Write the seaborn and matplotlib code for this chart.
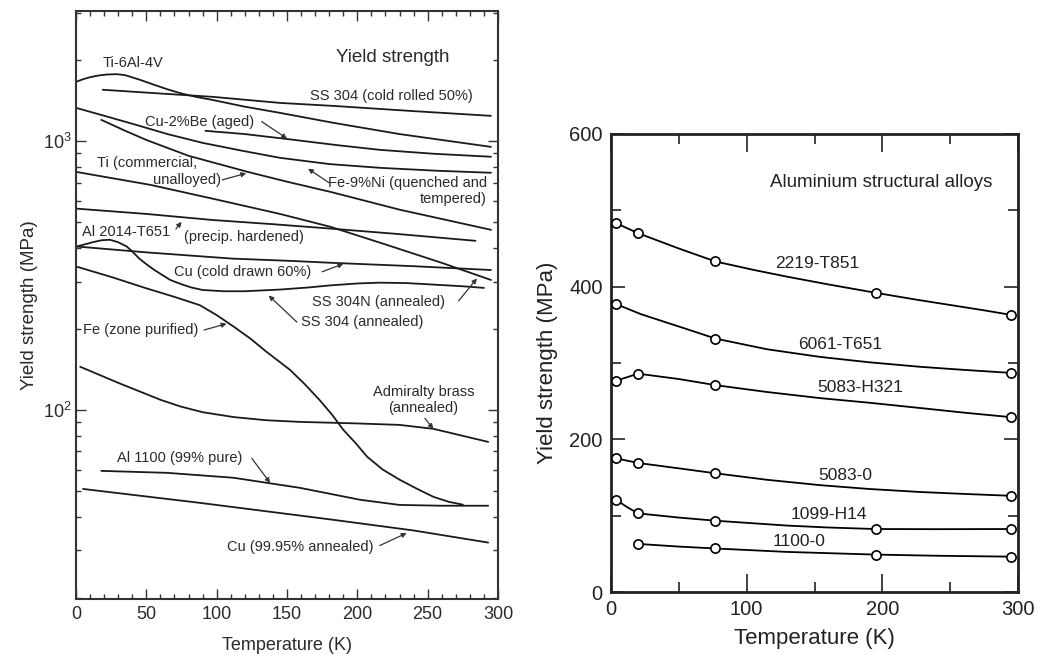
import numpy as np
import pandas as pd
import matplotlib
matplotlib.use("Agg")
import matplotlib.pyplot as plt
import matplotlib.ticker as mticker
import seaborn as sns

# ---------------- data: left panel (yield strength, MPa, log scale) ----------------
ti64_T = [0, 5, 10, 16, 22, 29, 35, 45, 55, 65, 75, 86, 97, 120, 145, 183, 230, 295]
ti64_v = [1657, 1695, 1725, 1750, 1765, 1770, 1755, 1690, 1620, 1555, 1500, 1455, 1420, 1340, 1271, 1167, 1060, 950]

ss304cr_T = [19, 60, 97, 145, 183, 240, 295]
ss304cr_v = [1549, 1500, 1458, 1384, 1349, 1290, 1239]

cube_T = [92, 120, 150, 185, 216, 255, 295]
cube_v = [1090, 1060, 1016, 965, 926, 895, 873]

feni_T = [0, 20, 43, 65, 90, 120, 145, 180, 216, 255, 295]
feni_v = [1327, 1240, 1146, 1060, 983, 915, 865, 820, 794, 775, 761]

ticp_T = [18, 35, 50, 80, 122, 150, 181, 230, 295]
ticp_v = [1197, 1090, 1008, 880, 767, 705, 646, 555, 467]

al2014_T = [0, 50, 97, 140, 183, 230, 284]
al2014_v = [560, 535, 508, 490, 471, 450, 425]

cucd_T = [0, 50, 111, 152, 182, 240, 295]
cucd_v = [405, 385, 365, 358, 352, 342, 331]

ss304a_T = [0, 6, 12, 18, 24, 30, 36, 40, 45, 50, 55, 61, 67, 75, 82, 90, 105, 120,
            145, 165, 180, 200, 216, 235, 255, 275, 290]
ss304a_v = [404, 412, 420, 427, 429, 420, 405, 388, 365, 348, 333, 318, 304, 293, 285, 279, 276, 276,
            280, 285, 290, 295, 297, 296, 292, 288, 284]

ss304n_T = [0, 53, 100, 145, 181, 220, 260, 295]
ss304n_v = [767, 686, 605, 535, 479, 412, 352, 304]

fe_T = [1, 25, 50, 70, 88, 100, 112, 124, 135, 152, 163, 173, 182, 190, 199, 207, 218,
        230, 242, 254, 265, 275]
fe_v = [340, 312, 283, 263, 245, 225, 204, 184, 165, 141, 124, 109, 96, 84.3, 75, 66.9, 60,
        55.0, 51, 47.5, 45.5, 44.4]

brass_T = [3, 30, 60, 74, 90, 112, 135, 159, 200, 230, 254, 293]
brass_v = [144.6, 126, 109, 103, 98, 94, 91.5, 90.2, 89, 87.9, 85, 76]

al1100_T = [18, 65, 112, 159, 202, 230, 260, 293]
al1100_v = [59.3, 58.3, 55.9, 51.3, 46.3, 44.3, 44.0, 44.0]

cuann_T = [5, 88, 183, 240, 293]
cuann_v = [50.8, 45.1, 39.0, 35.6, 32.1]

left_series = {
    "Ti-6Al-4V": (ti64_T, ti64_v),
    "SS 304 (cold rolled 50%)": (ss304cr_T, ss304cr_v),
    "Cu-2%Be (aged)": (cube_T, cube_v),
    "Fe-9%Ni": (feni_T, feni_v),
    "Ti (commercial)": (ticp_T, ticp_v),
    "Al 2014-T651": (al2014_T, al2014_v),
    "Cu (cold drawn 60%)": (cucd_T, cucd_v),
    "SS 304 (annealed)": (ss304a_T, ss304a_v),
    "SS 304N (annealed)": (ss304n_T, ss304n_v),
    "Fe (zone purified)": (fe_T, fe_v),
    "Admiralty brass": (brass_T, brass_v),
    "Al 1100": (al1100_T, al1100_v),
    "Cu (99.95% annealed)": (cuann_T, cuann_v),
}

# ---------------- data: right panel (aluminium alloys, MPa) ----------------
# measured points (markers)
a2219_T = [4, 20, 77, 195, 295]
a2219_v = [483, 470, 433, 392, 363]
a6061_T = [4, 77, 295]
a6061_v = [377, 332, 287]
a5083h_T = [4, 20, 77, 295]
a5083h_v = [277, 286, 271, 229]
a5083o_T = [4, 20, 77, 295]
a5083o_v = [175, 169, 155.5, 126]
a1099_T = [4, 20, 77, 195, 295]
a1099_v = [120.5, 103, 93.4, 82.5, 82.5]
a1100_T = [20, 77, 195, 295]
a1100_v = [63, 57, 49, 46.3]

# curve traces
c2219_T = [4, 20, 50, 77, 105, 130, 160, 195, 225, 250, 275, 295]
c2219_v = [483, 470, 450, 433, 422, 413, 403, 392, 383, 376, 369, 363]
c6061_T = [4, 22, 41, 60, 77, 115, 154, 190, 228, 260, 295]
c6061_v = [377, 364, 353, 342, 332, 318, 308, 301, 295, 291, 287]
c5083h_T = [4, 20, 50, 77, 115, 154, 190, 228, 260, 295]
c5083h_v = [277, 286, 279, 271, 262, 254, 248, 241, 235, 229]
c5083o_T = [4, 20, 50, 77, 115, 154, 190, 228, 260, 295]
c5083o_v = [175, 169, 162, 155.5, 147, 140, 135, 131, 128.5, 126]
c1099_T = [4, 12, 20, 50, 77, 105, 130, 160, 195, 240, 295]
c1099_v = [120.5, 111, 103, 97.5, 93.4, 90, 87, 84.5, 82.5, 82.3, 82.5]
c1100_T = [20, 50, 77, 130, 195, 240, 295]
c1100_v = [63, 59.5, 57, 52.5, 49, 47.5, 46.3]

right_points = {
    "2219-T851": (a2219_T, a2219_v), "6061-T651": (a6061_T, a6061_v),
    "5083-H321": (a5083h_T, a5083h_v), "5083-0": (a5083o_T, a5083o_v),
    "1099-H14": (a1099_T, a1099_v), "1100-0": (a1100_T, a1100_v),
}
right_curves = {
    "2219-T851": (c2219_T, c2219_v), "6061-T651": (c6061_T, c6061_v),
    "5083-H321": (c5083h_T, c5083h_v), "5083-0": (c5083o_T, c5083o_v),
    "1099-H14": (c1099_T, c1099_v), "1100-0": (c1100_T, c1100_v),
}

def long_df(d):
    rows = []
    for name, (ts, vs) in d.items():
        for t, v in zip(ts, vs):
            rows.append((name, t, v))
    return pd.DataFrame(rows, columns=["series", "T", "value"])

df_left = long_df(left_series)
df_rc = long_df(right_curves)
df_rp = long_df(right_points)

# ---------------- style ----------------
sns.set_style("ticks")
plt.rcParams["font.family"] = ["Liberation Sans", "DejaVu Sans"]
plt.rcParams["mathtext.fontset"] = "custom"
plt.rcParams["mathtext.rm"] = "Liberation Sans"
plt.rcParams["mathtext.it"] = "Liberation Sans:italic"
plt.rcParams["mathtext.bf"] = "Liberation Sans:bold"

TXT = "#2a2a2a"
fig = plt.figure(figsize=(10.38, 6.57), dpi=100)
fig.patch.set_facecolor("white")

# ================= left panel =================
axL = fig.add_axes([76 / 1038, 1 - 599 / 657, 422 / 1038, 588 / 657])
axL.set_yscale("log")
sns.lineplot(data=df_left, x="T", y="value", hue="series",
             palette={k: "#1a1a1a" for k in left_series}, estimator=None,
             sort=False, legend=False, linewidth=1.3, ax=axL)
axL.set_xlim(0, 300)
axL.set_ylim(19.8, 3040)
axL.xaxis.set_major_locator(mticker.MultipleLocator(50))
axL.xaxis.set_minor_locator(mticker.MultipleLocator(10))
axL.yaxis.set_major_locator(mticker.LogLocator(base=10, numticks=10))
axL.yaxis.set_minor_locator(mticker.LogLocator(base=10, subs=np.arange(2, 10), numticks=20))
axL.yaxis.set_major_formatter(mticker.LogFormatterMathtext())
axL.yaxis.set_minor_formatter(mticker.NullFormatter())
axL.tick_params(which="both", direction="in", top=True, right=True,
                colors="#333", labelcolor=TXT, labelsize=13, width=1.0)
axL.tick_params(which="major", length=7, pad=5)
axL.tick_params(axis="y", which="major", pad=3)
axL.tick_params(which="minor", length=3.8)
for s in axL.spines.values():
    s.set_linewidth(1.5)
    s.set_color("#333")
axL.set_xlabel("Temperature (K)", fontsize=13, color=TXT, labelpad=10)
axL.set_ylabel("Yield strength (MPa)", fontsize=13.5, color=TXT, labelpad=4)

fs = 10.5
def t(x, y, s, **kw):
    kw.setdefault("ha", "left")
    kw.setdefault("va", "center")
    axL.text(x, y, s, fontsize=kw.pop("size", fs), color=TXT, **kw)

def arr(x0, y0, x1, y1):
    axL.annotate("", xy=(x1, y1), xytext=(x0, y0),
                 arrowprops=dict(arrowstyle="-|>", color="#333", lw=0.9,
                                 mutation_scale=7, shrinkA=0, shrinkB=0))

t(225, 2040, "Yield strength", ha="center", size=13.5)
t(19, 1950, "Ti-6Al-4V")
t(224, 1469, "SS 304 (cold rolled 50%)", ha="center")
t(49, 1178, "Cu-2%Be (aged)")
arr(132, 1180, 150, 1020)
t(15, 828, "Ti (commercial,")
t(54.5, 716, "unalloyed)")
arr(104, 716, 121, 758)
t(292, 698, "Fe-9%Ni (quenched and", ha="right")
t(292, 608, "tempered)", ha="right")
arr(180, 698, 165, 788)
t(4, 459, "Al 2014-T651")
arr(71, 470, 75, 500)
t(77, 439, "(precip. hardened)")
t(70, 326, "Cu (cold drawn 60%)")
arr(175, 326, 190, 349)
t(168, 252, "SS 304N (annealed)")
arr(272, 254, 285, 308)
t(160, 212, "SS 304 (annealed)")
arr(157, 212, 137, 266)
t(5, 198, "Fe (zone purified)")
arr(91, 198, 107, 209)
t(247, 116, "Admiralty brass", ha="center")
t(247, 102, "(annealed)", ha="center")
arr(248, 93, 254, 85)
t(29, 66.4, "Al 1100 (99% pure)")
arr(125, 66, 138, 53.5)
t(107, 31.0, "Cu (99.95% annealed)")
arr(216, 31.3, 235, 34.8)

# ================= right panel =================
axR = fig.add_axes([611 / 1038, 1 - 592 / 657, 407 / 1038, 458 / 657])
sns.lineplot(data=df_rc, x="T", y="value", hue="series",
             palette={k: "black" for k in right_curves}, estimator=None,
             sort=False, legend=False, linewidth=1.3, ax=axR, zorder=2)
sns.scatterplot(data=df_rp, x="T", y="value", marker="o", s=44,
                facecolor="white", edgecolor="black", linewidth=1.2,
                legend=False, ax=axR, zorder=3)
axR.set_xlim(0, 300)
axR.set_ylim(0, 600)
axR.xaxis.set_major_locator(mticker.MultipleLocator(100))
axR.xaxis.set_minor_locator(mticker.MultipleLocator(50))
axR.yaxis.set_major_locator(mticker.MultipleLocator(200))
axR.yaxis.set_minor_locator(mticker.MultipleLocator(100))
axR.tick_params(which="both", direction="in", top=True, right=True,
                colors="#222", labelcolor="#222", labelsize=14.5, width=1.2)
axR.tick_params(axis="x", which="major", length=13, pad=6)
axR.tick_params(axis="x", which="minor", length=7.5)
axR.tick_params(axis="y", which="major", length=10, pad=6)
axR.tick_params(axis="y", which="minor", length=7)
for s in axR.spines.values():
    s.set_linewidth(2.0)
    s.set_color("#222")
axR.set_xlabel("Temperature (K)", fontsize=16, color="#222", labelpad=6)
axR.set_ylabel("Yield strength (MPa)", fontsize=16, color="#222", labelpad=8)

axR.text(199, 537, "Aluminium structural alloys", fontsize=13.5, ha="center", va="center", color="#222")
rfs = 12.5
for name, (x, y) in {"2219-T851": (152, 430), "6061-T651": (169, 324),
                     "5083-H321": (184, 268), "5083-0": (172.5, 153),
                     "1099-H14": (160.7, 102), "1100-0": (138.5, 66)}.items():
    axR.text(x, y, name, fontsize=rfs, ha="center", va="center", color="#222")

fig.savefig("out.png", dpi=100, facecolor="white")
